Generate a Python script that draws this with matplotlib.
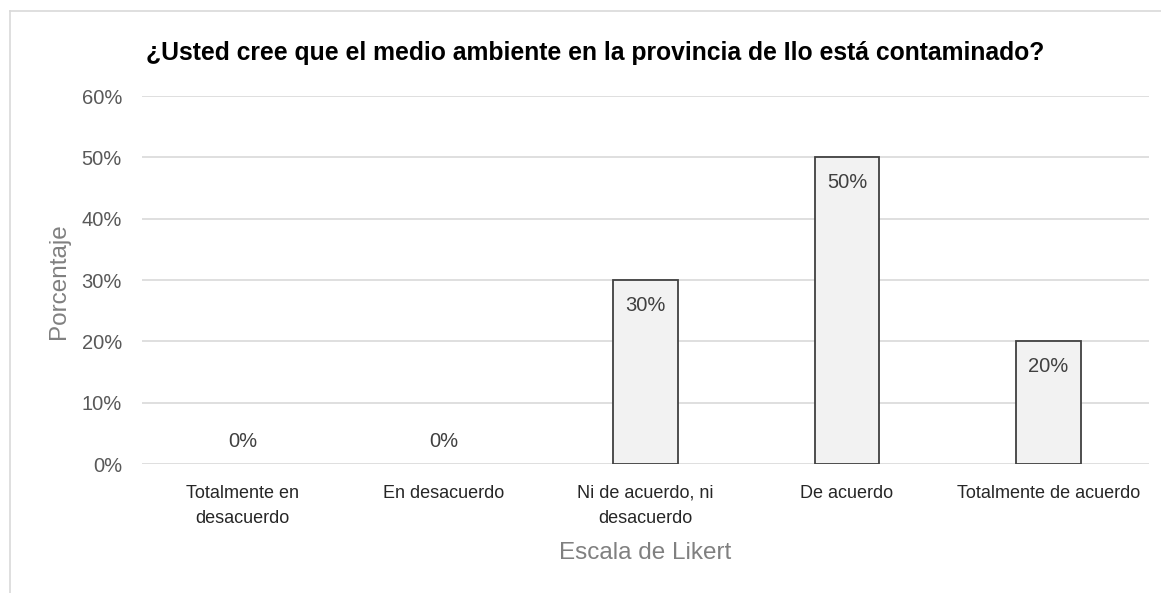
import matplotlib
matplotlib.use("Agg")
import matplotlib.pyplot as plt
from matplotlib.lines import Line2D

categories = ["Totalmente en\ndesacuerdo", "En desacuerdo", "Ni de acuerdo, ni\ndesacuerdo",
              "De acuerdo", "Totalmente de acuerdo"]
values = [0, 0, 30, 50, 20]
yticks = [0, 10, 20, 30, 40, 50, 60]
title = "¿Usted cree que el medio ambiente en la provincia de Ilo está contaminado?"

plt.rcParams["font.family"] = ["Liberation Sans", "DejaVu Sans"]

W, H = 1161, 593
fig = plt.figure(figsize=(W / 100, H / 100), dpi=100)
ax = fig.add_axes([142 / W, 1 - 464 / H, (1149 - 142) / W, (464 - 96) / H])

x = list(range(len(categories)))
edges = ["#404040" if v > 0 else "none" for v in values]
ax.bar(x, values, width=0.32, color="#f2f2f2", edgecolor=edges, linewidth=1.3, zorder=3)

for xi, v in zip(x, values):
    if v > 0:
        ax.text(xi, v - 4.1, f"{v}%", ha="center", va="center", fontsize=14.5, color="#404040", zorder=4)
    else:
        ax.text(xi, v + 3.6, f"{v}%", ha="center", va="center", fontsize=14.5, color="#404040", zorder=4)

ax.set_xlim(-0.5, len(categories) - 0.5)
ax.set_ylim(0, 60)
ax.set_yticks(yticks)
ax.set_yticklabels([f"{t}%" for t in yticks], fontsize=14.5, color="#595959")
ax.set_xticks(x)
ax.set_xticklabels(categories, fontsize=13, color="#262626", linespacing=1.6)
ax.tick_params(axis="both", length=0)
ax.tick_params(axis="y", pad=14.4)
ax.tick_params(axis="x", pad=15)
ax.grid(axis="y", color="#d9d9d9", linewidth=1.2, zorder=0)
for s in ax.spines.values():
    s.set_visible(False)

ax.set_ylabel("Porcentaje", fontsize=17.5, color="#808080")
ax.yaxis.set_label_coords(70 / W, 1 - 281 / H, transform=fig.transFigure)
ax.set_xlabel("Escala de Likert", fontsize=17.5, color="#808080")
ax.xaxis.set_label_coords(645 / W, 1 - 553 / H, transform=fig.transFigure)
ax.xaxis.label.set_verticalalignment("center")

fig.text(595 / W, 1 - 53 / H, title, ha="center", va="center", fontsize=17.8,
         fontweight="bold", color="#000000")

# chart frame (left and top edges)
fig.add_artist(Line2D([9.5 / W, 9.5 / W], [0, 1 - 11 / H], transform=fig.transFigure,
                      color="#d9d9d9", linewidth=1.2))
fig.add_artist(Line2D([9.5 / W, 1], [1 - 11 / H, 1 - 11 / H], transform=fig.transFigure,
                      color="#d9d9d9", linewidth=1.2))

fig.savefig("out.png", dpi=100, facecolor="white")
